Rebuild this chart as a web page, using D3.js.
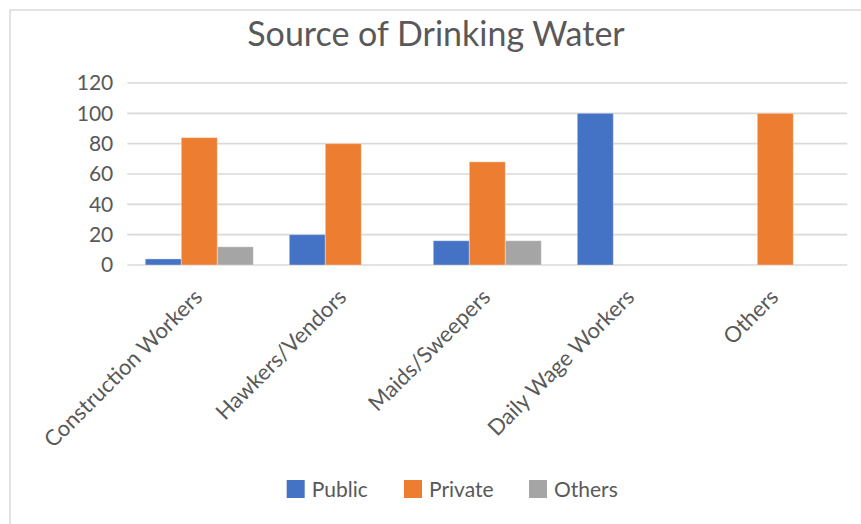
<!DOCTYPE html>
<html><head><meta charset="utf-8">
<script src="https://cdn.jsdelivr.net/npm/d3@7"></script>
<style>body{margin:0;background:#fff}svg{display:block}text{font-family:Lato,"Open Sans",sans-serif}</style>
</head><body><svg id="c" width="861" height="524"></svg>
<script>
const title = "Source of Drinking Water";
const categories = ["Construction Workers","Hawkers/Vendors","Maids/Sweepers","Daily Wage Workers","Others"];
const seriesNames = ["Public","Private","Others"];
const publicVals = [4,20,16,100,0];
const privateVals = [84,80,68,0,100];
const othersVals = [12,0,16,0,0];
const yTicks = [0,20,40,60,80,100,120];
const colors = ["#4472C4","#ED7D31","#A5A5A5"];
const seriesVals = [publicVals, privateVals, othersVals];

const svg = d3.select("#c");
svg.append("rect").attr("x",10).attr("y",10).attr("width",870).attr("height",540)
  .attr("fill","#fff").attr("stroke","#D9D9D9").attr("stroke-width",1.5);

const m = {l:127.3, r:847.3, t:83, b:265};
const x = d3.scaleBand().domain(categories).range([m.l,m.r]).paddingInner(0.25).paddingOuter(0.125);
const xs = d3.scaleBand().domain(seriesNames).range([0,x.bandwidth()]);
const y = d3.scaleLinear().domain([0,120]).range([m.b,m.t]);

// gridlines
svg.append("g").selectAll("line").data(yTicks).join("line")
  .attr("x1",m.l).attr("x2",m.r).attr("y1",d=>y(d)).attr("y2",d=>y(d))
  .attr("stroke","#D9D9D9").attr("stroke-width",1.6);

// y labels
const yAxis = d3.axisLeft(y).tickValues(yTicks).tickSize(0).tickPadding(14);
const ga = svg.append("g").attr("transform",`translate(${m.l},0)`).call(yAxis);
ga.select(".domain").remove();
ga.selectAll("text").attr("font-size",21).attr("fill","#595959").attr("font-family","Lato");

// bars
const data = [];
categories.forEach((c,i)=>seriesNames.forEach((s,j)=>data.push({c,s,v:seriesVals[j][i],j})));
svg.append("g").selectAll("rect").data(data.filter(d=>d.v>0)).join("rect")
  .attr("x",d=>x(d.c)+xs(d.s)).attr("width",xs.bandwidth())
  .attr("y",d=>y(d.v)).attr("height",d=>y(0)-y(d.v))
  .attr("fill",d=>colors[d.j]).attr("stroke","rgba(255,255,255,0.35)").attr("stroke-width",1);

// x labels
svg.append("g").selectAll("text").data(categories).join("text")
  .attr("transform",d=>`translate(${x(d)+x.bandwidth()/2-1},${293}) rotate(-45)`)
  .attr("text-anchor","end").attr("dy","0.35em")
  .attr("font-size",22).attr("fill","#595959").text(d=>d);

// title
svg.append("text").attr("x",436).attr("y",46).attr("text-anchor","middle")
  .attr("font-size",34).attr("fill","#595959").text(title);

// legend
const legX = [286.7, 404, 529];
const lg = svg.append("g").selectAll("g").data(seriesNames).join("g")
  .attr("transform",(d,i)=>`translate(${legX[i]},480)`);
lg.append("rect").attr("width",18).attr("height",18).attr("fill",(d,i)=>colors[i]);
lg.append("text").attr("x",25).attr("y",17).attr("font-size",21).attr("fill","#595959").text(d=>d);
</script></body></html>
